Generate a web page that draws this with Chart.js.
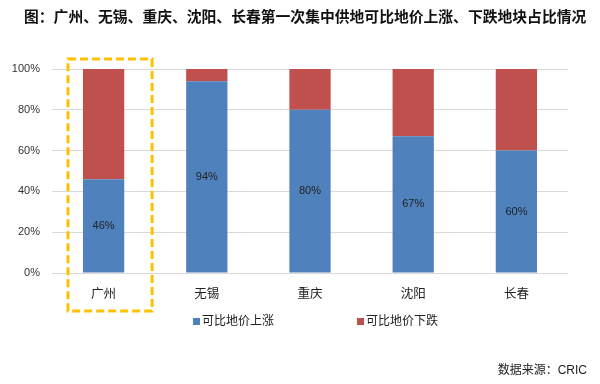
<!DOCTYPE html>
<html>
<head>
<meta charset="utf-8">
<script src="https://cdn.jsdelivr.net/npm/chart.js@4"></script>
<style>
  html, body { margin: 0; padding: 0; background: #fff; }
  #wrap { width: 600px; height: 384px; position: relative; }
</style>
</head>
<body>
<div id="wrap"><canvas id="landChart"></canvas></div>
<script>
// --- DATA ---
const TITLE = '图：广州、无锡、重庆、沈阳、长春第一次集中供地可比地价上涨、下跌地块占比情况';
const SOURCE = '数据来源：CRIC';
const cities = ['广州', '无锡', '重庆', '沈阳', '长春'];
const upShare = [46, 94, 80, 67, 60];    // 可比地价上涨
const downShare = [54, 6, 20, 33, 40];   // 可比地价下跌
const yTicks = [0, 20, 40, 60, 80, 100];
const highlightCity = '广州';

const FONT = "'Liberation Sans', 'Noto Sans CJK SC', sans-serif";
const BLUE = '#4F81BD';
const RED = '#C0504D';

// --- CUSTOM DRAWING (title, labels, legend, source, highlight box) ---
const decorPlugin = {
    id: 'decor',
    afterDatasetsDraw(chart) {
        const { ctx, chartArea, scales } = chart;
        const x = scales.x;

        // value labels inside the blue bars
        const meta = chart.getDatasetMeta(0);
        ctx.save();
        ctx.font = '11px ' + FONT;
        ctx.fillStyle = '#222';
        ctx.textAlign = 'center';
        ctx.textBaseline = 'middle';
        meta.data.forEach((bar, i) => {
            const mid = (bar.y + bar.base) / 2;
            ctx.fillText(upShare[i] + '%', bar.x, mid);
        });
        ctx.restore();

        // dashed highlight around one category (sits a bit right of the bar, like the original)
        const idx = cities.indexOf(highlightCity);
        const cx = x.getPixelForValue(idx);
        const catW = x.getPixelForValue(1) - x.getPixelForValue(0);
        const left = cx - catW * 0.345;
        const right = cx + catW * 0.47;
        ctx.save();
        ctx.strokeStyle = '#FFC000';
        ctx.lineWidth = 3;
        ctx.setLineDash([8, 4]);
        ctx.strokeRect(left, chartArea.top - 10, right - left, chartArea.bottom - chartArea.top + 48);
        ctx.restore();
    },
    afterDraw(chart) {
        const { ctx } = chart;
        ctx.save();
        // title
        ctx.font = 'bold 14.8px ' + FONT;
        ctx.fillStyle = '#111';
        ctx.textAlign = 'left';
        ctx.textBaseline = 'middle';
        ctx.fillText(TITLE, 24, 18);

        // legend
        ctx.font = '12px ' + FONT;
        const items = [
            { label: chart.data.datasets[0].label, color: BLUE, x: 193 },
            { label: chart.data.datasets[1].label, color: RED, x: 357 }
        ];
        items.forEach(it => {
            ctx.fillStyle = it.color;
            ctx.fillRect(it.x, 318, 7, 7);
            ctx.fillStyle = '#222';
            ctx.fillText(it.label, it.x + 9, 322);
        });

        // source
        ctx.textAlign = 'right';
        ctx.fillText(SOURCE, 587, 371);
        ctx.restore();
    }
};

const ctx = document.getElementById('landChart').getContext('2d');
new Chart(ctx, {
    type: 'bar',
    data: {
        labels: cities,
        datasets: [
            { label: '可比地价上涨', data: upShare, backgroundColor: BLUE },
            { label: '可比地价下跌', data: downShare, backgroundColor: RED }
        ]
    },
    options: {
        responsive: true,
        maintainAspectRatio: false,
        animation: false,
        datasets: { bar: { barPercentage: 0.4, categoryPercentage: 1 } },
        layout: { padding: { left: 0, right: 32, top: 69, bottom: 71 } },
        plugins: {
            legend: { display: false },
            title: { display: false },
            tooltip: { enabled: false }
        },
        scales: {
            x: {
                stacked: true,
                grid: { display: false },
                border: { display: false },
                ticks: { color: '#222', font: { family: FONT, size: 12.5 }, padding: 6 },
                afterFit: s => { s.height = 40; }
            },
            y: {
                stacked: true,
                min: 0,
                max: 100,
                afterBuildTicks: s => { s.ticks = yTicks.map(v => ({ value: v })); },
                grid: { color: '#D9D9D9', lineWidth: 1, drawTicks: false },
                border: { display: false },
                ticks: {
                    color: '#333',
                    font: { family: FONT, size: 11 },
                    padding: 12,
                    callback: v => v + '%'
                },
                afterFit: s => { s.width = 52; }
            }
        }
    },
    plugins: [decorPlugin]
});
</script>
</body>
</html>
